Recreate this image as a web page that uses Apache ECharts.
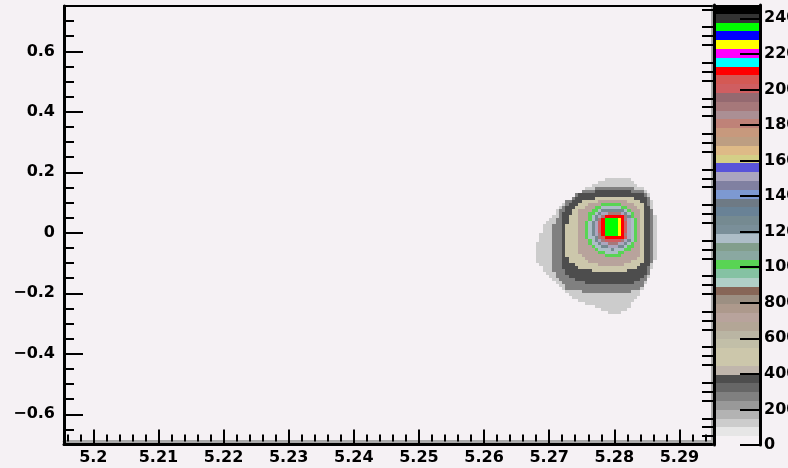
<!DOCTYPE html>
<html>
<head>
<meta charset="utf-8">
<script src="https://cdn.jsdelivr.net/npm/echarts@6/dist/echarts.min.js"></script>
<style>
  html, body { margin: 0; padding: 0; background: #f5f1f4; }
  #chart { width: 788px; height: 468px; }
</style>
</head>
<body>
<div id="chart"></div>
<script>
// Axis ranges and tick values
const xRange = [5.1955, 5.295];
const yRange = [-0.7, 0.75];
const xTickValues = [5.2, 5.21, 5.22, 5.23, 5.24, 5.25, 5.26, 5.27, 5.28, 5.29];
const yTickValues = [-0.6, -0.4, -0.2, 0, 0.2, 0.4, 0.6];
const zTickValues = [0, 200, 400, 600, 800, 1000, 1200, 1400, 1600, 1800, 2000, 2200, 2400];
const zMax = 2475;

// 50-level contour palette (low -> high)
const levelColors = [
  '#f5f1f4', '#e6e6e6', '#cccccc', '#b3b3b3', '#999999', '#808080', '#666666', '#4d4d4d', '#c0b6ac', '#ccc7ab',
  '#ccc7ab', '#c2bfa8', '#bab5a3', '#b3a696', '#b8a39c', '#ad998c', '#9c8f82', '#876657', '#b0cfc7', '#85c2a3',
  '#59d454', '#8aa8a1', '#829e8c', '#adbdc7', '#7a8f99', '#758a91', '#698296', '#6e7a85', '#7d99d1', '#8080a1',
  '#aba6bf', '#5954d9', '#d4cf87', '#deba87', '#bd9e82', '#c7997d', '#bf8278', '#ab8f94', '#a6787a', '#946970',
  '#cf5e61', '#d45954', '#ff0000', '#00ffff', '#ff00ff', '#ffff00', '#0000ff', '#00ff00', '#333333', '#000000'
];

// Histogram bins: 40 columns from binX0, rows going down from binYTop
const binX0 = 5.2675, binDX = 0.0005;
const binYTop = 0.18, binDY = 0.01;
const counts = [
  [0,0,0,0,0, 0,0,0,0,0, 0,0,0,0,0, 0,0,0,0,0, 0,0,120,120,120, 120,120,120,120,120, 0,0,0,0,0, 0,0,0,0,0],
  [0,0,0,0,0, 0,0,0,0,0, 0,0,0,0,0, 0,0,0,0,0, 120,120,120,120,120, 120,120,120,120,120, 120,0,0,0,0, 0,0,0,0,0],
  [0,0,0,0,0, 0,0,0,0,0, 0,0,0,0,0, 0,0,0,120,120, 120,120,120,120,120, 120,120,120,120,120, 120,120,0,0,0, 0,0,0,0,0],
  [0,0,0,0,0, 0,0,0,0,0, 0,0,0,0,0, 0,120,120,120,270, 270,270,270,270,270, 270,270,270,270,270, 270,120,120,120,0, 0,0,0,0,0],
  [0,0,0,0,0, 0,0,0,0,0, 0,0,0,0,0, 270,270,270,270,370, 370,370,370,370,370, 370,370,370,370,370, 270,270,270,270,120, 0,0,0,0,0],
  [0,0,0,0,0, 0,0,0,0,0, 0,0,0,270,370, 370,370,370,370,370, 370,370,370,370,370, 370,370,370,370,370, 370,370,370,370,270, 120,0,0,0,0],
  [0,0,0,0,0, 0,0,0,0,0, 0,0,270,370,370, 370,370,370,370,520, 520,520,520,520,520, 520,520,520,520,520, 520,370,370,370,370, 270,0,0,0,0],
  [0,0,0,0,0, 0,0,0,0,0, 270,270,370,370,370, 520,520,520,520,520, 720,720,720,720,720, 720,720,720,720,520, 520,520,520,370,370, 270,120,0,0,0],
  [0,0,0,0,0, 0,0,0,0,120, 270,370,370,370,520, 520,520,720,720,720, 720,1010,1010,1010,1010, 1010,1010,720,720,720, 720,520,520,520,370, 270,120,0,0,0],
  [0,0,0,0,0, 0,0,0,120,270, 370,370,370,520,520, 520,720,720,720,1010, 1010,1160,1160,1160,1160, 1160,1160,1010,1010,720, 720,720,520,520,370, 370,120,0,0,0],
  [0,0,0,0,0, 0,0,120,270,270, 370,370,520,520,720, 720,720,720,1010,1010, 1160,1260,1260,1260,1260, 1260,1260,1260,1160,1010, 720,720,720,520,370, 370,270,0,0,0],
  [0,0,0,0,0, 0,0,120,270,370, 370,370,520,520,720, 720,720,1010,1010,1160, 1260,1510,1510,1900,1900, 1900,1900,1510,1260,1160, 1010,720,720,520,370, 370,270,0,0,0],
  [0,0,0,0,0, 0,120,120,270,370, 370,520,520,520,720, 720,720,1010,1160,1260, 1510,1900,2100,2100,2100, 2100,2100,2100,1900,1260, 1010,720,720,520,370, 370,270,120,0,0],
  [0,0,0,0,0, 120,120,270,270,370, 370,520,520,520,720, 720,720,1010,1160,1260, 1900,2100,2350,2350,2350, 2350,2250,2100,1900,1510, 1160,1010,720,520,370, 370,270,120,0,0],
  [0,0,0,0,120, 120,120,270,270,370, 370,520,520,520,720, 720,1010,1160,1260,1510, 2000,2100,2350,2350,2350, 2350,2250,2100,2000,1510, 1160,1010,720,520,370, 370,270,120,0,0],
  [0,0,0,120,120, 120,270,270,270,370, 520,520,520,520,720, 720,1010,1160,1260,1510, 2000,2100,2350,2350,2350, 2350,2250,2100,2000,1510, 1160,1010,720,520,370, 370,270,120,0,0],
  [0,0,0,120,120, 120,270,270,270,370, 520,520,520,520,720, 720,1010,1160,1260,1510, 2000,2100,2350,2350,2350, 2350,2250,2100,2000,1510, 1160,1010,720,520,370, 370,270,120,0,0],
  [0,0,0,120,120, 120,270,270,270,370, 520,520,520,520,720, 720,1010,1160,1260,1510, 2000,2100,2350,2350,2350, 2350,2250,2100,2000,1510, 1160,1010,720,520,370, 370,270,120,0,0],
  [0,0,120,120,120, 120,270,270,270,370, 520,520,520,520,720, 720,1010,1160,1260,1510, 1900,2100,2350,2350,2350, 2350,2250,2100,1900,1510, 1160,1010,720,520,370, 370,270,120,0,0],
  [0,0,120,120,120, 120,270,270,270,370, 520,520,520,520,720, 720,1010,1160,1160,1260, 1900,2000,2100,2100,2100, 2100,2100,2100,2000,1510, 1160,1010,720,520,370, 370,270,120,0,0],
  [0,0,120,120,120, 120,270,270,270,370, 520,520,520,520,720, 720,720,1010,1160,1260, 1510,1900,2000,2000,2000, 2000,2000,1900,1510,1260, 1160,1010,720,520,370, 370,270,120,0,0],
  [0,120,120,120,120, 120,270,270,270,370, 520,520,520,520,720, 720,720,1010,1160,1160, 1260,1510,1510,1900,1900, 1900,1510,1510,1260,1160, 1010,720,720,520,370, 370,270,120,0,0],
  [0,120,120,120,120, 120,270,270,270,370, 520,520,520,520,720, 720,720,720,1010,1160, 1160,1260,1260,1510,1510, 1510,1260,1260,1160,1010, 1010,720,720,520,370, 370,270,120,0,0],
  [0,120,120,120,120, 120,270,270,270,370, 520,520,520,520,720, 720,720,720,720,1010, 1160,1160,1160,1160,1260, 1160,1160,1160,1010,1010, 720,720,720,520,370, 370,270,120,0,0],
  [0,120,120,120,120, 120,270,270,270,370, 520,520,520,520,720, 720,720,720,720,720, 1010,1010,1160,1160,1160, 1160,1010,1010,720,720, 720,720,720,520,370, 370,270,120,0,0],
  [0,120,120,120,120, 120,270,270,270,370, 520,520,520,520,520, 720,720,720,720,720, 720,720,1010,1010,1010, 1010,1010,720,720,720, 720,720,720,520,370, 370,270,120,0,0],
  [0,120,120,120,120, 120,270,270,270,370, 370,520,520,520,520, 520,720,720,720,720, 720,720,720,720,720, 720,720,720,720,720, 720,720,520,520,370, 370,270,120,0,0],
  [0,120,120,120,120, 120,270,270,270,370, 370,520,520,520,520, 520,520,720,720,720, 720,720,720,720,720, 720,720,720,720,720, 520,520,520,520,370, 370,270,0,0,0],
  [0,0,120,120,120, 120,270,270,270,370, 370,370,370,520,520, 520,520,520,520,520, 720,720,720,720,720, 720,720,720,520,520, 520,520,520,370,370, 370,120,0,0,0],
  [0,0,0,120,120, 120,270,270,270,370, 370,370,370,370,520, 520,520,520,520,520, 520,520,520,520,520, 520,520,520,520,520, 520,520,370,370,370, 270,120,0,0,0],
  [0,0,0,120,120, 120,270,270,270,270, 370,370,370,370,370, 370,370,370,520,520, 520,520,520,520,520, 520,520,520,520,370, 370,370,370,370,370, 270,0,0,0,0],
  [0,0,0,0,120, 120,120,270,270,270, 370,370,370,370,370, 370,370,370,370,370, 370,370,370,370,370, 370,370,370,370,370, 370,370,370,370,370, 270,0,0,0,0],
  [0,0,0,0,0, 120,120,270,270,270, 270,370,370,370,370, 370,370,370,370,370, 370,370,370,370,370, 370,370,370,370,370, 370,370,370,370,270, 120,0,0,0,0],
  [0,0,0,0,0, 0,120,120,270,270, 270,270,270,370,370, 370,370,370,370,370, 370,370,370,370,370, 370,370,370,370,370, 370,370,370,270,270, 0,0,0,0,0],
  [0,0,0,0,0, 0,0,120,120,270, 270,270,270,270,270, 270,370,370,370,370, 370,370,370,370,370, 370,370,370,370,370, 370,270,270,270,120, 0,0,0,0,0],
  [0,0,0,0,0, 0,0,0,120,120, 270,270,270,270,270, 270,270,270,270,270, 270,270,270,270,270, 270,270,270,270,270, 270,270,270,270,0, 0,0,0,0,0],
  [0,0,0,0,0, 0,0,0,0,120, 270,270,270,270,270, 270,270,270,270,270, 270,270,270,270,270, 270,270,270,270,270, 270,270,270,120,0, 0,0,0,0,0],
  [0,0,0,0,0, 0,0,0,0,0, 120,120,120,120,120, 270,270,270,270,270, 270,270,270,270,270, 270,270,270,270,270, 120,120,120,0,0, 0,0,0,0,0],
  [0,0,0,0,0, 0,0,0,0,0, 0,120,120,120,120, 120,120,120,120,120, 120,120,120,120,120, 120,120,120,120,120, 120,120,120,0,0, 0,0,0,0,0],
  [0,0,0,0,0, 0,0,0,0,0, 0,0,120,120,120, 120,120,120,120,120, 120,120,120,120,120, 120,120,120,120,120, 120,120,0,0,0, 0,0,0,0,0],
  [0,0,0,0,0, 0,0,0,0,0, 0,0,0,0,120, 120,120,120,120,120, 120,120,120,120,120, 120,120,120,120,120, 120,0,0,0,0, 0,0,0,0,0],
  [0,0,0,0,0, 0,0,0,0,0, 0,0,0,0,0, 0,120,120,120,120, 120,120,120,120,120, 120,120,120,120,120, 0,0,0,0,0, 0,0,0,0,0],
  [0,0,0,0,0, 0,0,0,0,0, 0,0,0,0,0, 0,0,0,0,120, 120,120,120,120,120, 120,120,120,120,120, 0,0,0,0,0, 0,0,0,0,0],
  [0,0,0,0,0, 0,0,0,0,0, 0,0,0,0,0, 0,0,0,0,0, 0,120,120,120,120, 120,120,120,120,0, 0,0,0,0,0, 0,0,0,0,0],
  [0,0,0,0,0, 0,0,0,0,0, 0,0,0,0,0, 0,0,0,0,0, 0,0,0,120,120, 120,120,0,0,0, 0,0,0,0,0, 0,0,0,0,0]
];

const BG = '#f5f1f4';
const FONT = 'DejaVu Sans';
const nLevels = levelColors.length;
const levelStep = zMax / nLevels;

function levelColor(v) {
  const k = Math.max(0, Math.min(nLevels - 1, Math.floor(v / levelStep)));
  return levelColors[k];
}

// Minor tick positions between the labelled ticks
const xMinor = [];
for (let n = 2598; n <= 2647; n++) if (n % 5 !== 0) xMinor.push(n / 500);
const yMinor = [];
for (let n = -14; n <= 15; n++) if (n % 4 !== 0) yMinor.push(n / 20);
const zMinor = [];
for (let n = 1; n <= 49; n++) if (n % 4 !== 0) zMinor.push(n * 50);

// Cells: [x0, x1, y0, y1, count]
const cells = [];
counts.forEach((row, j) => {
  const yHi = binYTop - j * binDY, yLo = yHi - binDY;
  row.forEach((c, i) => {
    if (c > 0) {
      const xLo = binX0 + i * binDX;
      cells.push([xLo, xLo + binDX, yLo, yHi, c]);
    }
  });
});

// Colour-scale bands: [0, 1, z0, z1, level]
const bands = levelColors.map((col, k) => [0, 1, k * levelStep, (k + 1) * levelStep, k]);

function rectItem(api, fill) {
  const a = api.coord([api.value(0), api.value(3)]);
  const b = api.coord([api.value(1), api.value(2)]);
  const x0 = Math.round(a[0]), y0 = Math.round(a[1]);
  const x1 = Math.round(b[0]), y1 = Math.round(b[1]);
  return {
    type: 'rect',
    shape: { x: x0, y: y0, width: x1 - x0, height: y1 - y0 },
    style: { fill: fill }
  };
}

const labelStyle = { color: '#000', fontFamily: FONT, fontWeight: 'bold', fontSize: 16 };
const plotBox = { left: 64, top: 6, width: 648, height: 438.5, outerBoundsMode: 'none', containLabel: false };
const barBox = { left: 714, top: 5, width: 46, height: 440, outerBoundsMode: 'none', containLabel: false };

const fmtX = v => String(+v.toFixed(4));
const fmtY = v => {
  const r = +v.toFixed(2);
  if (r === 0) return '0';
  return (r < 0 ? '\u2212' : '') + String(Math.abs(r));
};

const option = {
  backgroundColor: BG,
  animation: false,
  grid: [
    Object.assign({}, plotBox),
    Object.assign({}, barBox),
    Object.assign({}, plotBox),
    Object.assign({}, barBox)
  ],
  xAxis: [
    { // main bottom axis: labelled ticks
      gridIndex: 0, type: 'value', min: xRange[0], max: xRange[1], position: 'bottom', z: 6,
      axisLine: { show: true, onZero: false, lineStyle: { color: '#000', width: 3 } },
      axisTick: { show: true, inside: true, length: 15, customValues: xTickValues, lineStyle: { color: '#000', width: 2 } },
      axisLabel: Object.assign({ show: true, customValues: xTickValues, margin: 5, formatter: fmtX, hideOverlap: false }, labelStyle),
      splitLine: { show: false }
    },
    { // main top frame edge
      gridIndex: 0, type: 'value', min: xRange[0], max: xRange[1], position: 'top', z: 6,
      axisLine: { show: true, onZero: false, lineStyle: { color: '#000', width: 2 } },
      axisTick: { show: false }, axisLabel: { show: false }, splitLine: { show: false }
    },
    { gridIndex: 1, type: 'value', min: 0, max: 1, show: false },
    { // bottom shading + minor ticks
      gridIndex: 2, type: 'value', min: xRange[0], max: xRange[1], position: 'bottom', offset: -3, z: 4,
      axisLine: { show: true, onZero: false, lineStyle: { color: '#a9a9a9', width: 3 } },
      axisTick: { show: true, inside: true, length: 7, customValues: xMinor, lineStyle: { color: '#000', width: 2 } },
      axisLabel: { show: false }, splitLine: { show: false }
    },
    { gridIndex: 3, type: 'value', min: 0, max: 1, show: false }
  ],
  yAxis: [
    { // main left axis: labelled ticks
      gridIndex: 0, type: 'value', min: yRange[0], max: yRange[1], position: 'left', z: 6,
      axisLine: { show: true, onZero: false, lineStyle: { color: '#000', width: 3 } },
      axisTick: { show: true, inside: true, length: 19, customValues: yTickValues, lineStyle: { color: '#000', width: 2 } },
      axisLabel: Object.assign({ show: true, customValues: yTickValues, margin: 9, formatter: fmtY, hideOverlap: false }, labelStyle),
      splitLine: { show: false }
    },
    { // right frame shading
      gridIndex: 0, type: 'value', min: yRange[0], max: yRange[1], position: 'right', z: 6,
      axisLine: { show: true, onZero: false, lineStyle: { color: '#a9a9a9', width: 3 } },
      axisTick: { show: false }, axisLabel: { show: false }, splitLine: { show: false }
    },
    { // colour scale axis
      gridIndex: 1, type: 'value', min: 0, max: zMax, position: 'right', z: 6,
      axisLine: { show: true, onZero: false, lineStyle: { color: '#000', width: 3 } },
      axisTick: { show: true, inside: true, length: 20, customValues: zTickValues, lineStyle: { color: '#000', width: 2 } },
      axisLabel: Object.assign({ show: true, customValues: zTickValues, margin: 4, formatter: v => String(Math.round(v)), hideOverlap: false }, labelStyle),
      splitLine: { show: false }
    },
    { // colour scale left edge
      gridIndex: 1, type: 'value', min: 0, max: zMax, position: 'left', z: 6,
      axisLine: { show: true, onZero: false, lineStyle: { color: '#000', width: 3 } },
      axisTick: { show: false }, axisLabel: { show: false }, splitLine: { show: false }
    },
    { // main minor ticks
      gridIndex: 2, type: 'value', min: yRange[0], max: yRange[1], position: 'left', z: 6,
      axisLine: { show: false },
      axisTick: { show: true, inside: true, length: 10, customValues: yMinor, lineStyle: { color: '#000', width: 2 } },
      axisLabel: { show: false }, splitLine: { show: false }
    },
    { // colour scale minor ticks
      gridIndex: 3, type: 'value', min: 0, max: zMax, position: 'right', z: 6,
      axisLine: { show: false },
      axisTick: { show: true, inside: true, length: 12, customValues: zMinor, lineStyle: { color: '#000', width: 2 } },
      axisLabel: { show: false }, splitLine: { show: false }
    }
  ],
  series: [
    {
      type: 'custom', xAxisIndex: 0, yAxisIndex: 0, z: 2,
      encode: { x: [0, 1], y: [2, 3] },
      data: cells,
      renderItem: (params, api) => rectItem(api, levelColor(api.value(4)))
    },
    {
      type: 'custom', xAxisIndex: 2, yAxisIndex: 2, z: 2,
      encode: { x: [0, 1], y: [2, 3] },
      data: bands,
      renderItem: (params, api) => rectItem(api, levelColors[api.value(4)])
    }
  ]
};

const chart = echarts.init(document.getElementById('chart'), null, { renderer: 'canvas' });
chart.setOption(option);
</script>
</body>
</html>
